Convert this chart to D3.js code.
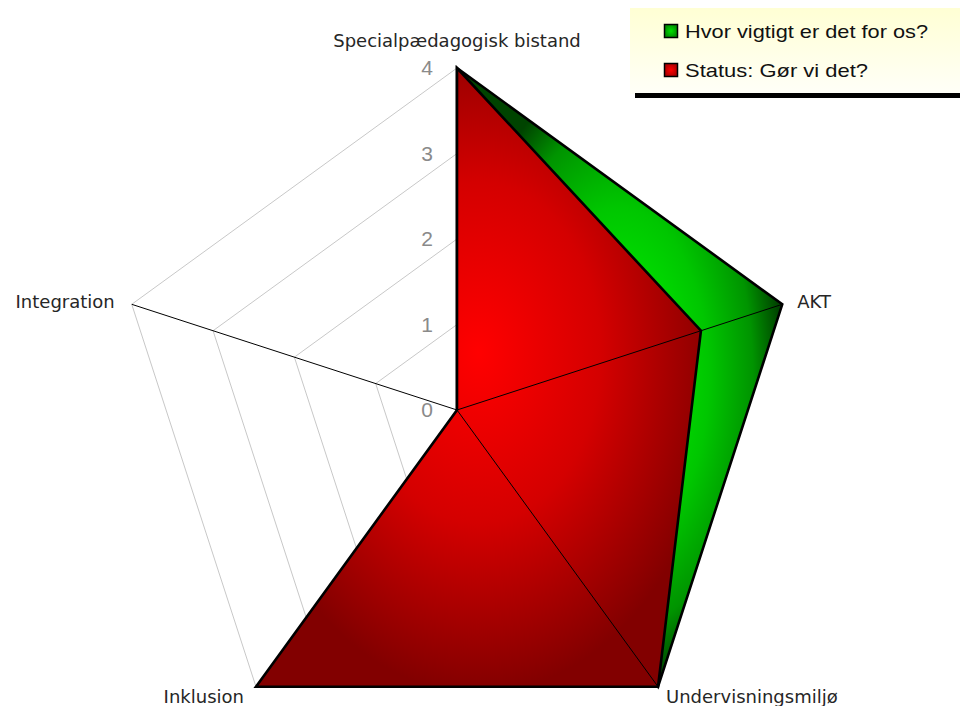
<!DOCTYPE html>
<html>
<head>
<meta charset="utf-8">
<script src="https://cdn.jsdelivr.net/npm/d3@7"></script>
<style>
  html, body { margin: 0; padding: 0; background: #fff; }
  svg { display: block; }
</style>
</head>
<body>
<svg id="chart" width="960" height="706"></svg>
<script>
// ---- data ----
const categories = ["Specialpædagogisk bistand", "AKT", "Undervisningsmiljø", "Inklusion", "Integration"];
const seriesNames = ["Hvor vigtigt er det for os?", "Status: Gør vi det?"];
const importanceValues = [4, 4, 4, 0, 0];
const statusValues = [4, 3, 4, 4, 0];
const tickValues = [0, 1, 2, 3, 4];

// ---- layout ----
const W = 960, H = 706;
const cx = 457, cy = 410, R = 342;
const svg = d3.select("#chart");
const rScale = d3.scaleLinear().domain([0, 4]).range([0, R]);
const aScale = d3.scaleLinear().domain([0, categories.length]).range([0, 2 * Math.PI]);
function pt(i, v) {
  const a = aScale(i), r = rScale(v);
  return [cx + r * Math.sin(a), cy - r * Math.cos(a)];
}

const defs = svg.append("defs");
const gG = defs.append("radialGradient").attr("id", "gGreen").attr("cx", 0.5).attr("cy", 0.5).attr("r", 0.5);
gG.append("stop").attr("offset", 0).attr("stop-color", "#00ff00");
gG.append("stop").attr("offset", 0.55).attr("stop-color", "#00c600");
gG.append("stop").attr("offset", 0.82).attr("stop-color", "#009400");
gG.append("stop").attr("offset", 1).attr("stop-color", "#004400");
const gR = defs.append("radialGradient").attr("id", "gRed").attr("cx", 0.5).attr("cy", 0.46).attr("r", 0.55);
gR.append("stop").attr("offset", 0).attr("stop-color", "#ff0000");
gR.append("stop").attr("offset", 0.5).attr("stop-color", "#d40000");
gR.append("stop").attr("offset", 1).attr("stop-color", "#820000");
const gL = defs.append("linearGradient").attr("id", "gLegend").attr("x1", 0).attr("y1", 0).attr("x2", 0).attr("y2", 1);
gL.append("stop").attr("offset", 0).attr("stop-color", "#ffffd4");
gL.append("stop").attr("offset", 1).attr("stop-color", "#fffff8");
const gLG = defs.append("radialGradient").attr("id", "gLegG");
gLG.append("stop").attr("offset", 0).attr("stop-color", "#00e000");
gLG.append("stop").attr("offset", 1).attr("stop-color", "#009000");
const gLR = defs.append("radialGradient").attr("id", "gLegR");
gLR.append("stop").attr("offset", 0).attr("stop-color", "#ff0000");
gLR.append("stop").attr("offset", 1).attr("stop-color", "#b00000");

// ---- grid rings ----
const lineGen = d3.line();
tickValues.filter(t => t > 0).forEach(t => {
  const pts = categories.map((c, i) => pt(i, t));
  svg.append("path")
    .attr("d", lineGen(pts) + "Z")
    .attr("fill", "none")
    .attr("stroke", "#c8c8c8")
    .attr("stroke-width", 1);
});

// ---- series ----
function drawSeries(vals, fill) {
  const pts = vals.map((v, i) => pt(i, v));
  svg.append("path")
    .attr("d", lineGen(pts) + "Z")
    .attr("fill", fill)
    .attr("stroke", "#000")
    .attr("stroke-width", 2.6)
    .attr("stroke-linejoin", "miter")
    .attr("stroke-miterlimit", 10);
}
drawSeries(importanceValues, "url(#gGreen)");
drawSeries(statusValues, "url(#gRed)");

// ---- spokes ----
categories.forEach((c, i) => {
  const [x, y] = pt(i, 4);
  svg.append("line")
    .attr("x1", cx).attr("y1", cy).attr("x2", x).attr("y2", y)
    .attr("stroke", "#000").attr("stroke-width", 1);
});

// ---- tick labels ----
svg.selectAll("text.tick").data(tickValues).enter().append("text")
  .attr("class", "tick")
  .attr("x", cx - 24)
  .attr("y", d => cy - rScale(d) + 7)
  .attr("text-anchor", "end")
  .attr("font-family", "Liberation Sans, Arial, sans-serif")
  .attr("font-size", 21)
  .attr("fill", "#8a8a8a")
  .text(d => d);

// ---- axis labels ----
categories.forEach((c, i) => {
  const [x, y] = pt(i, 4);
  let lx = x, ly = y, anchor = "middle";
  if (i === 0) { ly = y - 21; }
  else if (i === 1) { lx = x + 15; ly = y + 4; anchor = "start"; }
  else if (i === 2) { lx = x + 8; ly = y + 16; anchor = "start"; }
  else if (i === 3) { lx = x - 12; ly = y + 16; anchor = "end"; }
  else { lx = x - 17; ly = y + 4; anchor = "end"; }
  svg.append("text")
    .attr("x", lx).attr("y", ly)
    .attr("text-anchor", anchor)
    .attr("font-family", "DejaVu Sans, Verdana, sans-serif")
    .attr("font-size", 18)
    .attr("fill", "#262626")
    .text(c);
});

// ---- legend ----
const leg = svg.append("g");
leg.append("rect").attr("x", 630).attr("y", 8).attr("width", 330).attr("height", 86)
  .attr("fill", "url(#gLegend)");
leg.append("rect").attr("x", 635).attr("y", 93).attr("width", 325).attr("height", 5)
  .attr("fill", "#000");
const legFills = ["url(#gLegG)", "url(#gLegR)"];
const legWidths = [243, 183];
seriesNames.forEach((n, i) => {
  const yc = 31 + i * 39;
  leg.append("rect").attr("x", 664.5).attr("y", yc - 6.5).attr("width", 13).attr("height", 13)
    .attr("fill", legFills[i]).attr("stroke", "#000").attr("stroke-width", 1.5);
  leg.append("text").attr("x", 685).attr("y", yc + 7)
    .attr("font-family", "Liberation Sans, Arial, sans-serif")
    .attr("font-size", 19)
    .attr("fill", "#111")
    .attr("textLength", legWidths[i])
    .attr("lengthAdjust", "spacingAndGlyphs")
    .text(n);
});
</script>
</body>
</html>
